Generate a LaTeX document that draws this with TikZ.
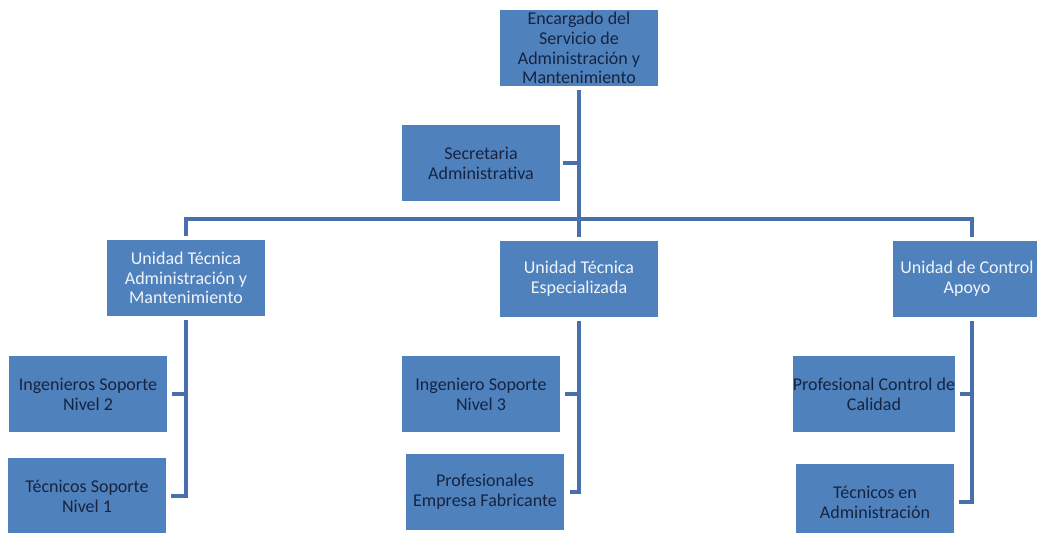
\documentclass[tikz,border=0pt]{standalone}
\usepackage{fontspec}
\setmainfont{Carlito}
\definecolor{boxfill}{RGB}{79,129,189}
\definecolor{linec}{RGB}{74,112,172}
\definecolor{darktext}{RGB}{22,36,64}
\definecolor{lighttext}{RGB}{240,244,250}
\begin{document}
\begin{tikzpicture}[x=1pt,y=-1pt,
  unit/.style={rectangle, fill=boxfill, inner sep=0pt, minimum width=158pt,
    minimum height=76pt, align=center, text=darktext,
    font=\fontsize{18}{19.8}\selectfont},
  unitw/.style={unit, text=lighttext},
  caption/.style={inner sep=0pt, align=center, text=lighttext,
    font=\fontsize{18}{19.8}\selectfont},
  conn/.style={draw=linec, line width=3.5pt}]
\clip (0,0) rectangle (1037,533);
\fill[white] (0,0) rectangle (1037,533);

% head of the service and its secretary
\node[unit] (top) at (579,48) {Encargado del\\Servicio de\\Administración y\\Mantenimiento};
\node[unit] (sec) at (481,163) {Secretaria\\Administrativa};

% technical units
\node[unitw] (ua) at (186,278) {Unidad Técnica\\Administración y\\Mantenimiento};
\node[unitw] (ub) at (579,279) {Unidad Técnica\\Especializada};
\node[unitw] (uc) at (972,279) {};
\node[caption] (uclabel) at (967,279) {Unidad de Control\\Apoyo};

% staff under each unit
\node[unit] (a1) at (88,394) {Ingenieros Soporte\\Nivel 2};
\node[unit] (a2) at (87,496) {Técnicos Soporte\\Nivel 1};
\node[unit] (b1) at (481,394) {Ingeniero Soporte\\Nivel 3};
\node[unit] (b2) at (485,492) {Profesionales\\Empresa Fabricante};
\node[unit] (c1) at (874,394) {Profesional Control de\\Calidad};
\node[unit] (c2) at (875,502) {Técnicos en\\Administración};

% connectors
\coordinate (bar) at (579,219);
\draw[conn, shorten <=4pt, shorten >=4pt] (top.south) -- (ub.north);
\draw[conn, shorten <=3pt] (sec.east) -- (sec.east -| top.south);
\draw[conn, shorten <=4pt, shorten >=4pt] (ua.north) |- (bar) -| (uc.north);

\draw[conn, shorten <=4pt, shorten >=5pt] (ua.south) |- (a2.east);
\draw[conn, shorten <=5pt] (a1.east) -- (a1.east -| ua.south);

\draw[conn, shorten <=4pt, shorten >=6pt] (ub.south) |- (b2.east);
\draw[conn, shorten <=5pt] (b1.east) -- (b1.east -| ub.south);

\draw[conn, shorten <=4pt, shorten >=5pt] (uc.south) |- (c2.east);
\draw[conn, shorten <=5pt] (c1.east) -- (c1.east -| uc.south);
\end{tikzpicture}
\end{document}
